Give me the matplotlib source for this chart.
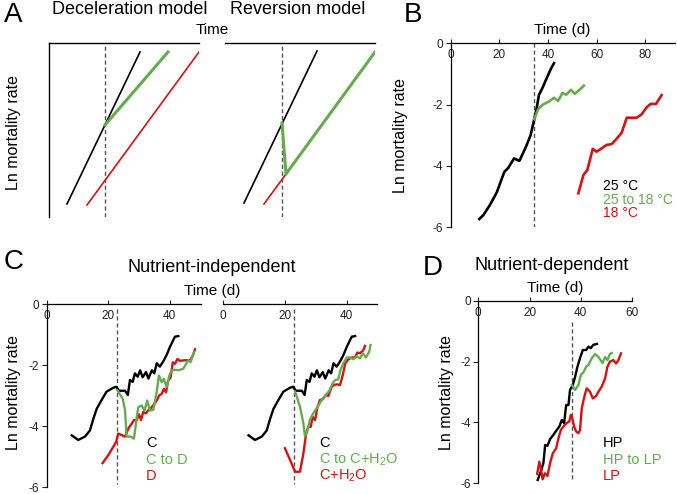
import matplotlib

matplotlib.use("Agg")
import matplotlib.pyplot as plt

plt.rcParams["font.family"] = ["Liberation Sans", "DejaVu Sans"]
plt.rcParams["mathtext.fontset"] = "custom"
plt.rcParams["mathtext.rm"] = "Liberation Sans"
plt.rcParams["mathtext.it"] = "Liberation Sans"
plt.rcParams["axes.unicode_minus"] = False

W, H = 677, 494
BLACK = "#000000"
GREEN = "#62AE4C"
RED = "#D81010"
GRAY = "#555555"

# --- Panel A: schematic models (arbitrary units) ---
decel_black_t = [18, 91]
decel_black_y = [13, 165]
decel_green_t = [56, 119]
decel_green_y = [92, 165]
decel_red_t = [38, 150]
decel_red_y = [12, 165]
decel_shift = 56

rev_black_t = [19, 92]
rev_black_y = [14, 166]
rev_red_t = [39, 61]
rev_red_y = [13, 43]
rev_green_t = [57, 61, 150]
rev_green_y = [94, 43, 165]
rev_shift = 57

# --- Panel B: temperature ---
b_25_t = [11.8, 13.5, 16.2, 19.0, 22.1, 23.7, 26.1, 28.3, 31.0, 32.9, 34.4,
          35.4, 36.3, 37.7, 39.5, 41.3, 42.5]
b_25_y = [-5.74, -5.61, -5.28, -4.87, -4.20, -4.07, -3.76, -3.84, -3.38, -3.00,
          -2.48, -2.12, -1.69, -1.47, -1.14, -0.82, -0.65]
b_shift_t = [34.4, 36.0, 38.0, 40.5, 42.5, 44.2, 46.0, 47.5, 49.5, 51.0, 53.0, 54.8]
b_shift_y = [-2.48, -2.15, -2.00, -1.90, -1.78, -1.88, -1.62, -1.68, -1.52, -1.65,
             -1.52, -1.38]
b_18_t = [52.5, 54.6, 56.2, 58.4, 60.0, 62.1, 64.1, 66.2, 68.3, 70.3, 72.4, 76.5,
          78.5, 80.6, 82.2, 84.4, 86.7]
b_18_y = [-4.90, -4.30, -4.14, -3.45, -3.54, -3.43, -3.32, -3.29, -3.11, -2.92,
          -2.43, -2.43, -2.32, -2.09, -1.98, -1.98, -1.69]
b_switch_day = 34.4

# --- Panel C: nutrient-independent ---
c_ctrl_t = [8.2, 10.3, 12.5, 14.1, 15.2, 16.3, 17.9, 19.5, 21.7, 22.6, 23.6, 25.5,
            26.4, 27.1, 28.0, 28.7, 29.6, 30.4, 31.2, 32.3, 33.1, 34.2, 35.0, 35.8,
            36.8, 37.9, 39.0, 40.1, 41.7, 42.8]
c_ctrl_y = [-4.30, -4.45, -4.34, -4.14, -3.76, -3.43, -3.14, -2.87, -2.74, -2.71,
            -2.84, -2.84, -2.98, -2.49, -2.55, -2.27, -2.38, -2.17, -2.40, -2.23,
            -2.44, -2.17, -2.27, -1.94, -2.05, -1.88, -1.67, -1.40, -1.07, -1.05]
c_ctod_t = [23.0, 24.7, 25.5, 26.0, 27.3, 28.4, 29.3, 29.8, 30.9, 31.8, 32.7, 33.6,
            34.7, 35.8, 36.5, 37.4, 38.1, 39.0, 39.9, 40.6, 41.7, 42.8, 44.4, 46.0,
            46.8, 47.9]
c_ctod_y = [-2.82, -3.09, -3.47, -4.34, -4.34, -4.41, -3.70, -3.38, -3.32, -3.49,
            -3.16, -3.49, -3.46, -2.87, -2.34, -2.56, -2.45, -2.72, -2.34, -2.17,
            -2.15, -2.17, -2.12, -1.84, -1.90, -1.57]
c_diet_t = [18.2, 20.1, 21.7, 22.6, 23.3, 24.4, 25.5, 26.6, 27.7, 28.4, 29.3, 30.0,
            30.7, 31.4, 32.3, 33.1, 33.8, 34.7, 35.8, 36.6, 37.4, 38.1, 38.8, 39.5,
            40.3, 41.0, 41.7, 42.5, 43.3, 45.0, 46.6, 47.5, 48.2]
c_diet_y = [-5.21, -4.94, -4.67, -4.51, -4.24, -4.29, -4.34, -4.07, -3.91, -3.80,
            -3.80, -3.61, -3.80, -3.53, -3.58, -3.47, -3.42, -3.31, -3.16, -2.99,
            -2.94, -2.78, -2.89, -2.51, -2.40, -1.91, -1.96, -1.80, -1.86, -1.84,
            -1.84, -1.70, -1.48]
c_ctow_t = [23.3, 24.9, 26.0, 26.5, 27.1, 28.1, 29.2, 30.5, 32.0, 33.3, 34.4, 35.5,
            36.3, 37.3, 38.1, 39.0, 40.1, 41.1, 42.2, 43.3, 44.4, 45.3, 46.3, 47.4,
            47.8]
c_ctow_y = [-2.87, -3.36, -3.91, -4.32, -4.23, -3.80, -3.58, -3.38, -3.14, -2.98,
            -2.84, -2.60, -2.49, -2.47, -2.14, -1.94, -1.75, -1.75, -1.81, -1.72,
            -1.78, -1.61, -1.75, -1.56, -1.34]
c_water_t = [20.0, 21.7, 23.3, 24.9, 26.0, 26.9, 27.6, 28.4, 29.0, 29.8, 30.5, 31.4,
             32.3, 33.3, 34.1, 35.2, 36.0, 36.8, 37.9, 38.8, 39.6, 40.6, 41.7, 42.8,
             43.5, 44.4, 45.5, 46.0]
c_water_y = [-4.72, -5.11, -5.49, -5.49, -4.89, -4.23, -4.02, -4.02, -3.69, -3.80,
             -3.41, -3.14, -3.12, -2.98, -3.01, -2.71, -2.65, -2.63, -2.65, -2.32,
             -1.94, -1.81, -1.75, -1.75, -1.59, -1.61, -1.51, -1.37]
c_switch_day = 23.0

# --- Panel D: nutrient-dependent ---
d_hp_t = [23.2, 24.4, 25.4, 26.1, 27.0, 28.0, 29.3, 30.6, 31.6, 32.6, 33.5, 34.3,
          35.2, 35.8, 36.9, 37.8, 38.7, 39.7, 40.8, 42.1, 43.0, 43.9, 44.9, 46.3]
d_hp_y = [-5.89, -5.61, -5.34, -4.74, -4.77, -4.55, -4.41, -4.25, -4.14, -3.92,
          -4.03, -3.43, -3.43, -2.93, -2.77, -2.50, -2.17, -1.89, -1.62, -1.62,
          -1.51, -1.56, -1.45, -1.42]
d_hptolp_t = [36.5, 37.8, 39.1, 40.0, 41.0, 42.1, 43.0, 44.3, 45.6, 46.9, 48.5,
              49.5, 50.4, 51.4, 52.1]
d_hptolp_y = [-2.77, -2.93, -2.77, -2.44, -2.36, -2.17, -2.11, -1.89, -1.75, -1.85,
              -2.05, -1.85, -1.95, -1.75, -1.72]
d_lp_t = [23.0, 23.8, 24.4, 25.1, 26.0, 27.0, 28.0, 29.1, 30.4, 31.3, 32.2, 33.2,
          34.3, 35.5, 36.1, 36.7, 37.4, 38.2, 39.1, 39.7, 40.4, 41.4, 42.3, 43.6,
          44.7, 46.0, 46.9, 48.2, 49.5, 50.4, 51.4, 52.7, 53.8, 54.7, 55.7]
d_lp_y = [-5.69, -5.29, -5.50, -5.87, -5.67, -5.76, -5.34, -5.01, -4.85, -4.52,
          -4.25, -4.14, -4.03, -3.97, -3.75, -3.86, -4.14, -4.30, -4.35, -4.25,
          -3.53, -3.15, -2.88, -2.99, -3.21, -3.13, -2.99, -2.82, -2.55, -2.17,
          -2.00, -1.95, -2.06, -1.95, -1.73]
d_switch_day = 36.5

y_ticks = [0, -2, -4, -6]

LABEL_FS = 11.5
TIME_FS = 11
TITLE_FS = 13
LEGEND_FS = 10.5
LETTER_FS = 20


def px_axes(fig, left, top, right, bottom):
    """Add axes from a pixel box (origin at top-left of the figure)."""
    return fig.add_axes([left / W, 1 - bottom / H, (right - left) / W, (bottom - top) / H])


def ftext(fig, x, y, s, **kw):
    kw.setdefault("ha", "center")
    kw.setdefault("va", "center")
    return fig.text(x / W, 1 - y / H, s, **kw)


def style_time_axis(ax, xmax, xticks, show_y=True):
    ax.set_xlim(0, xmax)
    ax.set_ylim(-6, 0)
    ax.spines["right"].set_visible(False)
    ax.spines["bottom"].set_visible(False)
    ax.xaxis.tick_top()
    ax.set_xticks(xticks)
    ax.tick_params(axis="x", direction="out", length=3, width=0.8, pad=-16,
                   labelsize=8.5, colors="#222222")
    if show_y:
        ax.set_yticks(y_ticks)
        ax.set_yticklabels([str(v) for v in y_ticks])
        ax.tick_params(axis="y", direction="out", length=3.5, width=0.8, pad=2,
                       labelsize=8.5, colors="#222222")
    else:
        ax.spines["left"].set_visible(False)
        ax.set_yticks([])
    for sp in ax.spines.values():
        sp.set_linewidth(0.9)
    ax.patch.set_alpha(0)


def style_schematic(ax, show_left):
    ax.set_xlim(0, 150)
    ax.set_ylim(0, 174)
    ax.set_xticks([])
    ax.set_yticks([])
    ax.spines["right"].set_visible(False)
    ax.spines["bottom"].set_visible(False)
    ax.spines["left"].set_visible(show_left)
    for sp in ax.spines.values():
        sp.set_linewidth(1.0)
    ax.patch.set_alpha(0)


def dashed(ax, x, y0, y1):
    ax.plot([x, x], [y0, y1], color=GRAY, lw=1.0, ls=(0, (3, 2)), zorder=1)


fig = plt.figure(figsize=(W / 100, H / 100), dpi=100)

# Panel A
ax_a1 = px_axes(fig, 49, 43, 199, 217)
style_schematic(ax_a1, True)
dashed(ax_a1, decel_shift, 0, 174)
ax_a1.plot(decel_black_t, decel_black_y, color=BLACK, lw=1.2)
ax_a1.plot(decel_red_t, decel_red_y, color=RED, lw=1.2)
ax_a1.plot(decel_green_t, decel_green_y, color=GREEN, lw=2.2)

ax_a2 = px_axes(fig, 225, 43, 375, 217)
style_schematic(ax_a2, False)
dashed(ax_a2, rev_shift, 0, 174)
ax_a2.plot(rev_black_t, rev_black_y, color=BLACK, lw=1.2)
ax_a2.plot(rev_red_t, rev_red_y, color=RED, lw=1.2)
ax_a2.plot(rev_green_t, rev_green_y, color=GREEN, lw=2.2)

ftext(fig, 13, 15, "A", fontsize=LETTER_FS)
ftext(fig, 130, 10, "Deceleration model", fontsize=TITLE_FS)
ftext(fig, 298, 10, "Reversion model", fontsize=TITLE_FS)
ftext(fig, 212, 30, "Time", fontsize=TIME_FS)
ftext(fig, 14, 133, "Ln mortality rate", fontsize=LABEL_FS, rotation=90)

# Panel B
ax_b = px_axes(fig, 450.5, 43.3, 674.5, 227)
style_time_axis(ax_b, 92, [0, 20, 40, 60, 80])
dashed(ax_b, b_switch_day, 0, -6)
ax_b.plot(b_25_t, b_25_y, color=BLACK, lw=1.9)
ax_b.plot(b_shift_t, b_shift_y, color=GREEN, lw=1.9)
ax_b.plot(b_18_t, b_18_y, color=RED, lw=1.9)
ftext(fig, 413, 15, "B", fontsize=LETTER_FS)
ftext(fig, 562, 30, "Time (d)", fontsize=TIME_FS)
ftext(fig, 401, 135, "Ln mortality rate", fontsize=LABEL_FS, rotation=90)
ftext(fig, 603, 186, "25 °C", fontsize=10, ha="left", color=BLACK)
ftext(fig, 603, 199.5, "25 to 18 °C", fontsize=10, ha="left", color=GREEN)
ftext(fig, 603, 213, "18 °C", fontsize=10, ha="left", color=RED)

# Panel C
ax_c1 = px_axes(fig, 46.5, 304, 200.5, 487.3)
style_time_axis(ax_c1, 50, [0, 20, 40])
dashed(ax_c1, c_switch_day, -0.15, -5.9)
ax_c1.plot(c_ctrl_t, c_ctrl_y, color=BLACK, lw=1.7)
ax_c1.plot(c_diet_t, c_diet_y, color=RED, lw=1.7)
ax_c1.plot(c_ctod_t, c_ctod_y, color=GREEN, lw=1.7)

ax_c2 = px_axes(fig, 223.3, 304, 377.3, 487.3)
style_time_axis(ax_c2, 50, [0, 20, 40], show_y=False)
dashed(ax_c2, c_switch_day, -0.15, -5.9)
ax_c2.plot(c_ctrl_t, c_ctrl_y, color=BLACK, lw=1.7)
ax_c2.plot(c_water_t, c_water_y, color=RED, lw=1.7)
ax_c2.plot(c_ctow_t, c_ctow_y, color=GREEN, lw=1.7)

ftext(fig, 14, 262, "C", fontsize=LETTER_FS)
ftext(fig, 212, 267, "Nutrient-independent", fontsize=TITLE_FS)
ftext(fig, 212, 291, "Time (d)", fontsize=TIME_FS)
ftext(fig, 14, 392, "Ln mortality rate", fontsize=LABEL_FS, rotation=90)
ftext(fig, 146, 443, "C", fontsize=LEGEND_FS, ha="left", color=BLACK)
ftext(fig, 146, 460, "C to D", fontsize=LEGEND_FS, ha="left", color=GREEN)
ftext(fig, 146, 476, "D", fontsize=LEGEND_FS, ha="left", color=RED)
ftext(fig, 319, 443, "C", fontsize=LEGEND_FS, ha="left", color=BLACK)
ftext(fig, 319, 460, "C to C+H$_\\mathrm{2}$O", fontsize=LEGEND_FS, ha="left", color=GREEN)
ftext(fig, 319, 476, "C+H$_\\mathrm{2}$O", fontsize=LEGEND_FS, ha="left", color=RED)

# Panel D
ax_d = px_axes(fig, 478.3, 300.7, 632, 483.3)
style_time_axis(ax_d, 60, [0, 20, 40, 60])
dashed(ax_d, d_switch_day, -0.7, -5.9)
ax_d.plot(d_hp_t, d_hp_y, color=BLACK, lw=1.7)
ax_d.plot(d_lp_t, d_lp_y, color=RED, lw=1.7)
ax_d.plot(d_hptolp_t, d_hptolp_y, color=GREEN, lw=1.7)

ftext(fig, 433, 268, "D", fontsize=LETTER_FS)
ftext(fig, 552, 265, "Nutrient-dependent", fontsize=TITLE_FS)
ftext(fig, 555, 288, "Time (d)", fontsize=TIME_FS)
ftext(fig, 447, 392, "Ln mortality rate", fontsize=LABEL_FS, rotation=90)
ftext(fig, 603, 443, "HP", fontsize=LEGEND_FS, ha="left", color=BLACK)
ftext(fig, 603, 460, "HP to LP", fontsize=LEGEND_FS, ha="left", color=GREEN)
ftext(fig, 603, 476, "LP", fontsize=LEGEND_FS, ha="left", color=RED)

fig.savefig("out.png", dpi=100)
